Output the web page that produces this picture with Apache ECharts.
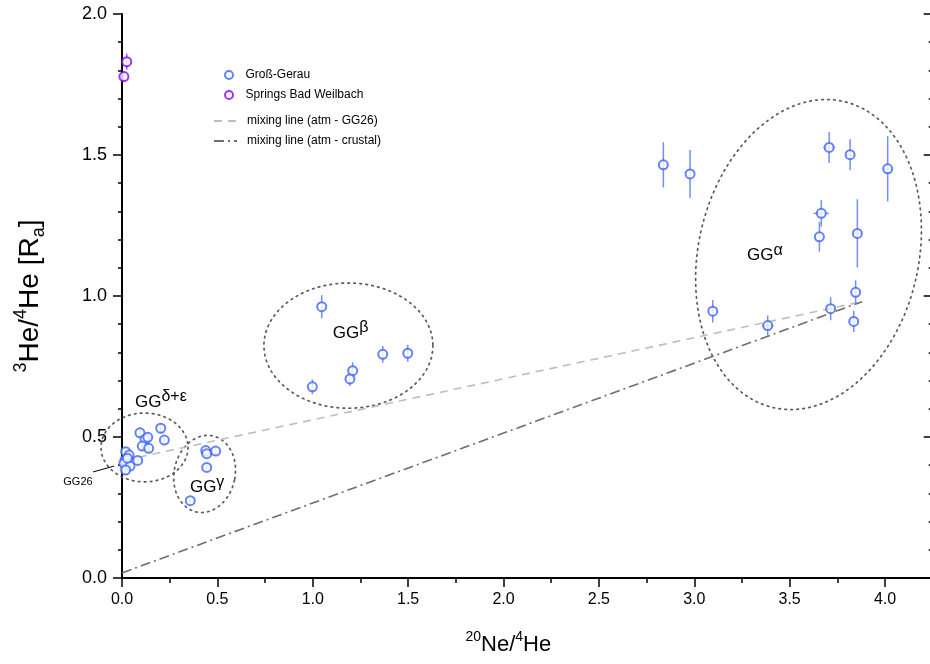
<!DOCTYPE html>
<html>
<head>
<meta charset="utf-8">
<script src="https://cdn.jsdelivr.net/npm/echarts@6.0.0/dist/echarts.min.js"></script>
<style>
  html, body { margin: 0; padding: 0; background: #fff; }
  #chart { width: 930px; height: 664px; }
</style>
</head>
<body>
<div id="chart"></div>
<script>
// Groß-Gerau samples: 20Ne/4He, 3He/4He [Ra] and their 1-sigma errors
const ggNeHe = [
  2.838, 2.978, 3.707, 3.817, 4.014, 3.666, 3.656, 3.855, 3.846, 3.715, 3.097, 3.385, 3.836,
  1.047, 0.998, 1.209, 1.195, 1.367, 1.498,
  0.439, 0.444, 0.491, 0.444, 0.358,
  0.094, 0.121, 0.135, 0.106, 0.140, 0.203, 0.222, 0.082,
  0.019, 0.037, 0.016, 0.010, 0.042, 0.019, 0.028
];
const ggHeRa = [
  1.465, 1.433, 1.527, 1.501, 1.451, 1.293, 1.210, 1.222, 1.013, 0.955, 0.946, 0.895, 0.910,
  0.962, 0.678, 0.735, 0.706, 0.793, 0.797,
  0.452, 0.441, 0.450, 0.392, 0.274,
  0.515, 0.492, 0.499, 0.468, 0.460, 0.531, 0.489, 0.417,
  0.448, 0.436, 0.418, 0.406, 0.397, 0.383, 0.425
];
const ggErrRa = [
  0.080, 0.085, 0.055, 0.055, 0.116, 0.047, 0.053, 0.121, 0.043, 0.041, 0.040, 0.036, 0.038,
  0.041, 0.026, 0.030, 0.025, 0.030, 0.030,
  0.015, 0.012, 0.015, 0.010, 0.010,
  0.018, 0.018, 0.015, 0.018, 0.018, 0.018, 0.015, 0.012,
  0.015, 0.012, 0.012, 0.010, 0.010, 0.010, 0.010
];
const ggErrNe = [
  0, 0, 0.03, 0.02, 0.02, 0.04, 0, 0.02, 0.01, 0.02, 0, 0.03, 0.02,
  0, 0, 0, 0, 0, 0,
  0, 0, 0, 0, 0,
  0, 0, 0, 0, 0, 0, 0, 0,
  0, 0, 0, 0, 0, 0, 0
];

// Springs Bad Weilbach
const bwNeHe = [0.025, 0.010];
const bwHeRa = [1.831, 1.778];
const bwErrRa = [0.028, 0.018];
const bwErrNe = [0, 0];

// Mixing-line end members [20Ne/4He, 3He/4He]
const atmEnd = [3.88, 0.98];
const gg26End = [0.016, 0.418];
const crustEnd = [0, 0.018];

// Sample groups: ellipse centre, semi-axes (data units), tilt (deg), label anchor
const groupSup = ['α', 'β', 'δ+ε', 'γ'];
const groupCx = [3.599, 1.187, 0.118, 0.433];
const groupCy = [1.147, 0.824, 0.463, 0.369];
const groupRx = [0.577, 0.443, 0.228, 0.160];
const groupRy = [0.557, 0.222, 0.122, 0.138];
const groupTilt = [13, 0, 0, 12];
const groupLabelX = [3.277, 1.105, 0.068, 0.356];
const groupLabelY = [1.145, 0.869, 0.624, 0.321];

// GG26 callout: text anchor and leader line ends
const gg26Label = [-0.154, 0.342];
const gg26LeaderFrom = [-0.152, 0.376];
const gg26LeaderTo = [-0.041, 0.397];

// Axis ticks
const xTicks = { min: 0, max: 4.25, step: 0.5 };
const yTicks = { min: 0, max: 2.0, step: 0.5 };

const GG_COLOR = '#3f64f5';
const GG_BAR = '#7090f4';
const BW_COLOR = '#8800ff';
const BW_BAR = '#a24cff';

const SANS = "'Liberation Sans', Arial, sans-serif";
const NARROW = "'Liberation Sans Narrow', 'Arial Narrow', 'Liberation Sans', Arial, sans-serif";

const ggData = ggNeHe.map((v, i) => [v, ggHeRa[i], ggErrRa[i], ggErrNe[i]]);
const bwData = bwNeHe.map((v, i) => [v, bwHeRa[i], bwErrRa[i], bwErrNe[i]]);
const groupData = groupCx.map((v, i) => [v, groupCy[i], groupRx[i], groupRy[i], groupTilt[i], groupLabelX[i], groupLabelY[i]]);

function renderErrorBar(params, api) {
  const x = api.value(0), y = api.value(1), ey = api.value(2), ex = api.value(3);
  const style = { stroke: api.visual('color'), lineWidth: 1.5, fill: 'none' };
  const children = [];
  if (ey > 0) {
    const a = api.coord([x, y - ey]), b = api.coord([x, y + ey]);
    children.push({ type: 'line', shape: { x1: a[0], y1: a[1], x2: b[0], y2: b[1] }, style });
  }
  if (ex > 0) {
    const a = api.coord([x - ex, y]), b = api.coord([x + ex, y]);
    children.push({ type: 'line', shape: { x1: a[0], y1: a[1], x2: b[0], y2: b[1] }, style });
  }
  return { type: 'group', children };
}

const labelRich = {
  b: { fontSize: 17, fontFamily: SANS, fill: '#000', lineHeight: 26, verticalAlign: 'middle' },
  s: { fontSize: 16, fontFamily: SANS, fill: '#000', lineHeight: 10, verticalAlign: 'top' }
};

function renderGroup(params, api) {
  const c = api.coord([api.value(0), api.value(1)]);
  const s = api.size([api.value(2), api.value(3)]);
  const th = api.value(4) * Math.PI / 180;
  const pts = [];
  const n = 160;
  for (let k = 0; k < n; k++) {
    const t = k / n * Math.PI * 2;
    const ux = s[0] * Math.cos(t), uy = s[1] * Math.sin(t);
    pts.push([c[0] + ux * Math.cos(th) - uy * Math.sin(th), c[1] + ux * Math.sin(th) + uy * Math.cos(th)]);
  }
  const lp = api.coord([api.value(5), api.value(6)]);
  return {
    type: 'group',
    children: [
      { type: 'polygon', shape: { points: pts },
        style: { fill: 'none', stroke: '#5a5a5a', lineWidth: 1.7, lineDash: [1.6, 4.4], lineCap: 'round' } },
      { type: 'text', x: lp[0], y: lp[1],
        style: { text: '{b|GG}{s|' + groupSup[params.dataIndex] + '}', rich: labelRich, align: 'left', verticalAlign: 'middle' } }
    ]
  };
}

function renderCallout(params, api) {
  const a = api.coord(gg26LeaderFrom), b = api.coord(gg26LeaderTo), t = api.coord(gg26Label);
  return {
    type: 'group',
    children: [
      { type: 'line', shape: { x1: a[0], y1: a[1], x2: b[0], y2: b[1] }, style: { stroke: '#000', lineWidth: 1 } },
      { type: 'text', x: t[0], y: t[1],
        style: { text: 'GG26', fontSize: 11, fontFamily: SANS, fill: '#000', align: 'right', verticalAlign: 'middle' } }
    ]
  };
}

const chart = echarts.init(document.getElementById('chart'), null, { renderer: 'canvas' });

chart.setOption({
  animation: false,
  backgroundColor: '#fff',
  grid: { left: 122, top: 14, bottom: 86, right: -2.7, containLabel: false, outerBoundsMode: 'none' },
  legend: [
    {
      data: ['Groß-Gerau', 'Springs Bad Weilbach'],
      orient: 'vertical', left: 224, top: 69, padding: 0,
      itemWidth: 23, itemHeight: 8, itemGap: 8,
      textStyle: { fontSize: 12, fontFamily: SANS, color: '#000' }
    },
    {
      data: [
        { name: 'mixing line (atm - GG26)', itemStyle: { opacity: 0 } },
        { name: 'mixing line (atm - crustal)', itemStyle: { opacity: 0 } }
      ],
      orient: 'vertical', left: 213, top: 115, padding: 0,
      itemWidth: 23, itemHeight: 8, itemGap: 8,
      textStyle: { fontSize: 12, fontFamily: SANS, color: '#000', padding: [0, 0, 0, 5] }
    }
  ],
  xAxis: {
    type: 'value', min: xTicks.min, max: xTicks.max, interval: xTicks.step,
    splitLine: { show: false },
    axisLine: { onZero: false, lineStyle: { color: '#000', width: 2 } },
    axisTick: { length: 9, lineStyle: { color: '#000', width: 1.5 } },
    minorTick: { show: true, splitNumber: 2, length: 5, lineStyle: { color: '#000', width: 1.5 } },
    axisLabel: { color: '#000', fontSize: 16, fontFamily: NARROW, margin: 14,
      showMaxLabel: false, formatter: v => v.toFixed(1) },
    name: '{sup|20}{b|Ne/}{sup|4}{b|He}',
    nameLocation: 'middle', nameGap: 52, nameMoveOverlap: false,
    nameTextStyle: {
      padding: [0, 38, 0, 0],
      rich: {
        b: { fontSize: 22, fontFamily: NARROW, color: '#000', lineHeight: 30, verticalAlign: 'middle' },
        sup: { fontSize: 14, fontFamily: NARROW, color: '#000', lineHeight: 14, verticalAlign: 'top' }
      }
    }
  },
  yAxis: [
    {
      type: 'value', min: yTicks.min, max: yTicks.max, interval: yTicks.step, position: 'left',
      splitLine: { show: false },
      axisLine: { onZero: false, lineStyle: { color: '#000', width: 2 } },
      axisTick: { length: 9, lineStyle: { color: '#000', width: 1.5 } },
      minorTick: { show: true, splitNumber: 5, length: 4, lineStyle: { color: '#000', width: 1.5 } },
      axisLabel: { color: '#000', fontSize: 18, fontFamily: SANS, margin: 15, formatter: v => v.toFixed(1) },
      name: '{sup|3}{b|He/}{sup|4}{b|He [R}{sub|a}{b|]}',
      nameLocation: 'middle', nameGap: 74, nameRotate: 90, nameMoveOverlap: false,
      nameTextStyle: {
        rich: {
          b: { fontSize: 28, fontFamily: SANS, color: '#000', lineHeight: 36, verticalAlign: 'middle' },
          sup: { fontSize: 18, fontFamily: SANS, color: '#000', lineHeight: 17, verticalAlign: 'top' },
          sub: { fontSize: 18, fontFamily: SANS, color: '#000', lineHeight: 17, verticalAlign: 'bottom' }
        }
      }
    },
    {
      type: 'value', min: yTicks.min, max: yTicks.max, interval: yTicks.step, position: 'right',
      splitLine: { show: false },
      axisLine: { onZero: false, lineStyle: { color: '#000', width: 2 } },
      axisTick: { inside: true, length: 9, lineStyle: { color: '#000', width: 1.5 } },
      minorTick: { show: true, splitNumber: 5, length: 4, lineStyle: { color: '#000', width: 1.5 } },
      axisLabel: { show: false }
    }
  ],
  series: [
    {
      type: 'custom', name: 'groups', renderItem: renderGroup, data: groupData,
      encode: { x: 0, y: 1 }, z: 1, silent: true, clip: false
    },
    {
      type: 'custom', name: 'callout', renderItem: renderCallout, data: [[gg26End[0], gg26End[1]]],
      encode: { x: 0, y: 1 }, z: 1, silent: true, clip: false
    },
    {
      type: 'line', name: 'mixing line (atm - GG26)', data: [gg26End, atmEnd],
      symbol: 'none', z: 2, silent: true,
      lineStyle: { color: '#bdbdbd', width: 1.6, type: [8, 6] },
      itemStyle: { color: '#bdbdbd' }
    },
    {
      type: 'line', name: 'mixing line (atm - crustal)', data: [crustEnd, atmEnd],
      symbol: 'none', z: 2, silent: true,
      lineStyle: { color: '#6e6e6e', width: 1.6, type: [10, 4, 2, 4] },
      itemStyle: { color: '#6e6e6e' }
    },
    {
      type: 'custom', name: 'gg-err', renderItem: renderErrorBar, data: ggData,
      encode: { x: 0, y: 1 }, itemStyle: { color: GG_BAR }, z: 3, silent: true, clip: false
    },
    {
      type: 'custom', name: 'bw-err', renderItem: renderErrorBar, data: bwData,
      encode: { x: 0, y: 1 }, itemStyle: { color: BW_BAR }, z: 3, silent: true, clip: false
    },
    {
      type: 'scatter', name: 'Groß-Gerau', data: ggData.map(d => [d[0], d[1]]),
      symbol: 'emptyCircle', symbolSize: 9, z: 4,
      itemStyle: { color: GG_COLOR, borderWidth: 1.8 }
    },
    {
      type: 'scatter', name: 'Springs Bad Weilbach', data: bwData.map(d => [d[0], d[1]]),
      symbol: 'emptyCircle', symbolSize: 9, z: 4,
      itemStyle: { color: BW_COLOR, borderWidth: 1.8 }
    }
  ]
});
</script>
</body>
</html>
